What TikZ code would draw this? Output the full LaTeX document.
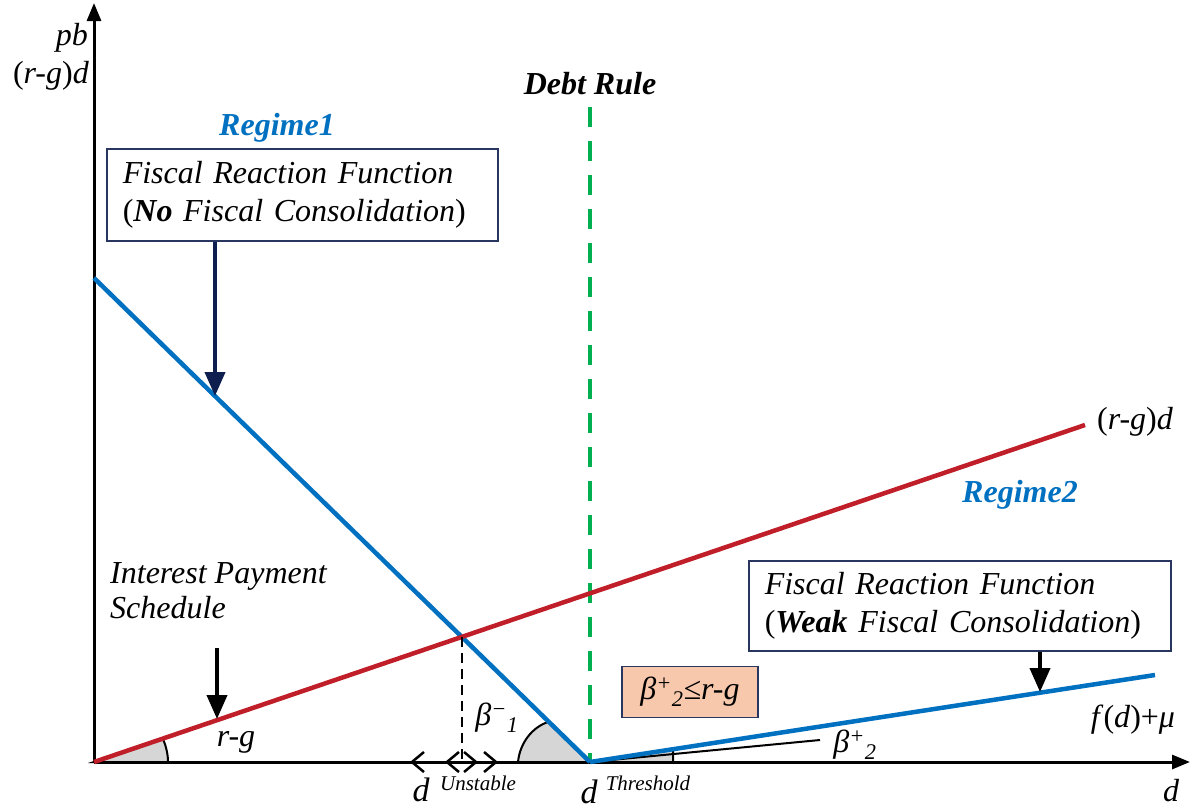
\documentclass[tikz,border=0pt]{standalone}
\usepackage{fontspec}
\setmainfont{Liberation Serif}
\usepackage{xcolor}
\usetikzlibrary{arrows.meta, positioning}

\definecolor{regblue}{RGB}{0,112,192}
\definecolor{ratered}{RGB}{192,30,40}
\definecolor{rulegreen}{RGB}{0,176,80}
\definecolor{boxnavy}{RGB}{40,54,96}
\definecolor{arrownavy}{RGB}{14,30,78}
\definecolor{condfill}{RGB}{248,200,172}

\newcommand{\upl}{\textup{(}}
\newcommand{\upr}{\textup{)}}

\begin{document}
\begin{tikzpicture}[x=1pt, y=-1pt, >=Stealth,
    lbl/.style={font=\fontsize{32}{35}\selectfont\itshape, inner sep=0pt},
    suplbl/.style={font=\fontsize{21}{24}\selectfont\itshape, inner sep=0pt},
    regime/.style={font=\fontsize{32}{35}\selectfont\bfseries\itshape, text=regblue, inner sep=0pt},
    frfbox/.style={draw=boxnavy, line width=1.5pt, anchor=north west, align=left,
        font=\fontsize{32}{38}\selectfont\itshape, inner xsep=16pt, inner ysep=0pt},
    curve/.style={line width=4.5pt},
    pointer/.style={line width=4pt, -{Triangle[width=20pt,length=24pt]}},
    wedge/.style={fill=black!16, draw=black, line width=2pt},
    barb/.style={line width=2.5pt, -{Straight Barb[length=12pt,width=20pt]}}]
    \useasboundingbox (0,0) rectangle (1192,809);

    % axes
    \coordinate (o) at (94,762);
    \coordinate (ytop) at (94,3);
    \coordinate (xend) at (1190,762);
    \draw[line width=3pt, -{Triangle[width=14pt,length=18pt]}] (o) -- (ytop);
    \draw[line width=3pt, -{Triangle[width=14pt,length=18pt]}] (o) -- (xend);

    % key points
    \coordinate (thr) at (590,762);
    \coordinate (fr1start) at (94,278);
    \coordinate (rgend) at (1085,425);
    \coordinate (fr2end) at (1155,675);
    \coordinate (cross) at (462,637);
    \coordinate (unst) at (462,762);

    % angle wedges
    \draw[wedge] (o) -- (168,762) .. controls (168,754) and (166,746) .. (163,739) -- cycle;
    \draw[wedge] (thr) -- (518,762) .. controls (520,742) and (533,727) .. (548,722) -- cycle;
    \draw[wedge] (thr) -- (673,762) -- (673,748.5) -- cycle;
    \draw[line width=2pt] (thr) -- (820,740);

    % debt rule
    \draw[rulegreen, line width=4pt, dash pattern=on 20pt off 14pt] (590,107) -- (thr);

    % schedules
    \draw[curve, regblue] (fr1start) -- (thr);
    \draw[curve, ratered] (o) -- (rgend);
    \draw[curve, regblue] (thr) -- (fr2end);

    % unstable point
    \draw[line width=2.2pt, dash pattern=on 10pt off 6pt] (cross) -- (unst);
    \draw[barb] (unst) -- (410,762);
    \draw[barb] (unst) -- (445,762);
    \draw[barb] (unst) -- (478,762);
    \draw[barb] (unst) -- (498,762);

    % axis labels
    \node[lbl, anchor=east] (pb) at (88,38) {pb};
    \node[lbl, anchor=east] (ylab) at (89,76) {\upl r-g\upr d};
    \node[lbl] (xlab) at (1171,791) {d};

    % regime 1
    \node[regime] (reg1) at (277,128) {Regime1};
    \node[frfbox, minimum width=391pt, minimum height=92pt, text width=359pt] (box1) at (106,148)
        {Fiscal Reaction Function\\\upl\textbf{No} Fiscal Consolidation\upr};
    \coordinate (fr1pt) at (215,396);
    \draw[pointer, arrownavy] (box1.south -| fr1pt) -- (fr1pt);

    % regime 2
    \node[lbl] (rglab) at (1135,422) {\upl r-g\upr d};
    \node[regime] (reg2) at (1020,495) {Regime2};
    \node[frfbox, minimum width=422pt, minimum height=90pt, text width=390pt] (box2) at (748,560)
        {Fiscal Reaction Function\\\upl\textbf{Weak} Fiscal Consolidation\upr};
    \coordinate (fr2pt) at (1040,692);
    \draw[pointer] (box2.south -| fr2pt) -- (fr2pt);
    \node[lbl] (fdmu) at (1133,720) {f\upl d\upr\textup{+}μ};

    % interest payment schedule
    \node[lbl, anchor=west, align=left] (ips) at (110,591) {Interest Payment\\Schedule};
    \coordinate (ipstart) at (217,648);
    \coordinate (ippt) at (217,719);
    \draw[pointer] (ipstart) -- (ippt);
    \node[lbl] (rg) at (236,742) {r-g};

    % debt rule label and condition
    \node[lbl, font=\fontsize{32}{35}\selectfont\bfseries\itshape] (rule) at (590,84) {Debt Rule};
    \node[draw=boxnavy, fill=condfill, line width=1.5pt, minimum width=136pt, minimum height=51pt,
        lbl, inner sep=0pt] (cond) at (690,692)
        {β\textsuperscript{+}\textsubscript{2}≤r-g};

    % angle labels
    \node[lbl] (beta1) at (497,718) {β\textsuperscript{−}\textsubscript{1}};
    \node[lbl] (beta2) at (855,745) {β\textsuperscript{+}\textsubscript{2}};

    % points on the debt axis
    \node[lbl, font=\fontsize{34}{36}\selectfont\itshape] (dun) at (421,790) {d};
    \node[suplbl] (dunlab) at (478,783) {Unstable};
    \node[lbl, font=\fontsize{34}{36}\selectfont\itshape] (dthr) at (589,792) {d};
    \node[suplbl] (dthrlab) at (648,783) {Threshold};
\end{tikzpicture}
\end{document}
